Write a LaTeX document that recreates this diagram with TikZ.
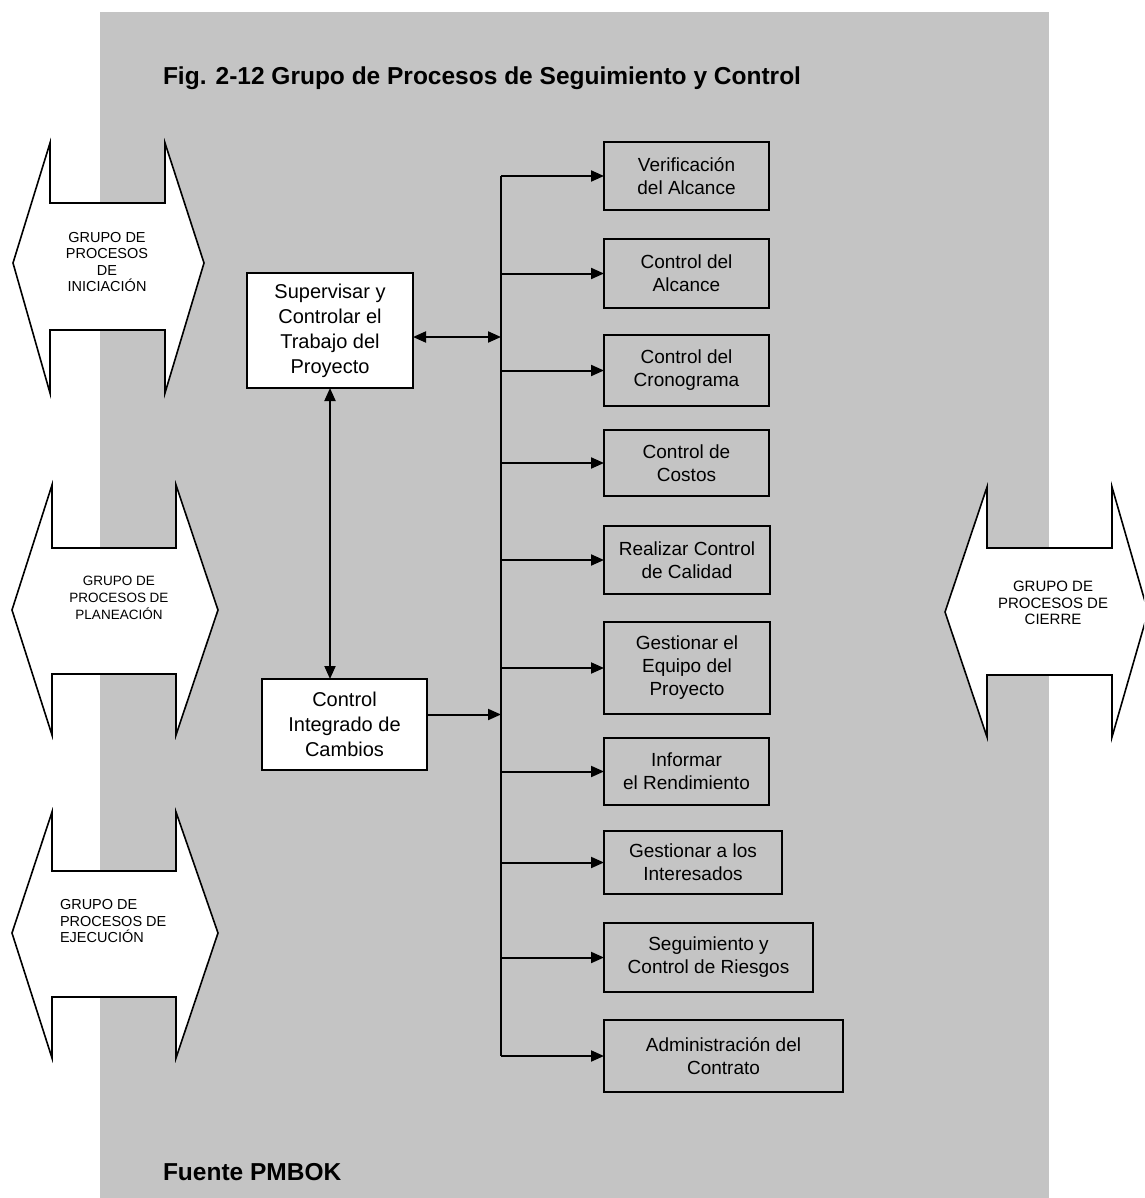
\documentclass[tikz,border=0pt]{standalone}
\usepackage{fontspec}
\setmainfont{Liberation Sans}
\usetikzlibrary{arrows.meta}
\definecolor{paper}{RGB}{196,196,196}
\begin{document}
\begin{tikzpicture}[x=1pt,y=-1pt,
  every node/.style={inner sep=0pt,outer sep=0pt},
  blockarrow/.style={draw=black,line width=1.6pt,fill=white,line join=miter},
  grouplabel/.style={align=center,font=\fontsize{14.5}{16.5}\selectfont},
  procbox/.style={draw=black,line width=2.2pt,align=center,minimum width=165pt,
    font=\fontsize{19}{23}\selectfont},
  mainbox/.style={draw=black,line width=2.2pt,fill=white,align=center,
    font=\fontsize{20}{25}\selectfont},
  link/.style={line width=2pt},
  head/.style={-{Triangle[length=13pt,width=11pt]}},
  bothheads/.style={{Triangle[length=13pt,width=11pt]}-{Triangle[length=13pt,width=11pt]}},
  heading/.style={font=\bfseries\fontsize{24.5}{28}\selectfont}
]
\clip (0,0) rectangle (1144,1198);

% textured page background
\fill[paper] (100,12) rectangle (1049,1198);

% process-group block arrows
\draw[blockarrow] (13,263) -- (50,143) -- (50,203) -- (165,203) -- (165,143) -- (204,263)
  -- (165,393) -- (165,330) -- (50,330) -- (50,393) -- cycle;
\node[grouplabel] (ini) at (107,262) {GRUPO DE\\PROCESOS\\DE\\INICIACIÓN};

\draw[blockarrow] (12,610) -- (52,485) -- (52,548) -- (176,548) -- (176,485) -- (218,610)
  -- (176,735) -- (176,674) -- (52,674) -- (52,735) -- cycle;
\node[grouplabel,font=\fontsize{13.5}{17}\selectfont] (pla) at (119,598) {GRUPO DE\\PROCESOS DE\\PLANEACIÓN};

\draw[blockarrow] (12,933) -- (52,812) -- (52,871) -- (176,871) -- (176,812) -- (218,933)
  -- (176,1058) -- (176,997) -- (52,997) -- (52,1058) -- cycle;
\node[grouplabel,align=left,anchor=west] (eje) at (60,921) {GRUPO DE\\PROCESOS DE\\EJECUCIÓN};

\draw[blockarrow] (945,612) -- (987,487) -- (987,548) -- (1112,548) -- (1112,487) -- (1148,612)
  -- (1112,737) -- (1112,675) -- (987,675) -- (987,737) -- cycle;
\node[grouplabel,font=\fontsize{15}{16.5}\selectfont] (cie) at (1053,603) {GRUPO DE\\PROCESOS DE\\CIERRE};

% title and source
\node[heading,anchor=base west] (title) at (163,85) {Fig. 2-12 Grupo de Procesos de Seguimiento y Control};
\node[heading,anchor=base west] (src) at (163,1180) {Fuente PMBOK};

% integration boxes
\node[mainbox,minimum width=166pt,minimum height=115pt] (sup) at (330,330.5)
  {Supervisar y\\Controlar el\\Trabajo del\\Proyecto};
\node[mainbox,minimum width=165pt,minimum height=91pt] (cic) at (344.5,724.5)
  {Control\\Integrado de\\Cambios};

% monitoring and control processes
\node[procbox,minimum height=68pt] (p1) at (686.5,176) {Verificación\\del Alcance};
\node[procbox,minimum height=69pt] (p2) at (686.5,273.5) {Control del\\Alcance};
\node[procbox,minimum height=71pt] (p3) at (686.5,370.5) {Control del\\Cronograma};
\node[procbox,minimum height=66pt] (p4) at (686.5,463) {Control de\\Costos};
\node[procbox,minimum height=68pt,minimum width=166pt] (p5) at (687,560) {Realizar Control\\de Calidad};
\node[procbox,minimum height=92pt,minimum width=166pt] (p6) at (687,668) {Gestionar el\\Equipo del\\Proyecto};
\node[procbox,minimum height=67pt] (p7) at (686.5,771.5) {Informar\\el Rendimiento};
\node[procbox,minimum height=63pt,minimum width=178pt] (p8) at (693,862.5) {Gestionar a los\\Interesados};
\node[procbox,minimum height=69pt,minimum width=209pt] (p9) at (708.5,957.5) {Seguimiento y\\Control de Riesgos};
\node[procbox,minimum height=72pt,minimum width=239pt] (p10) at (723.5,1056) {Administración del\\Contrato};

% distribution bus
\coordinate (bus) at (501,0);
\draw[link] (bus |- p1.west) -- (bus |- p10.west);
\foreach \p in {p1,p2,p3,p4,p5,p6,p7,p8,p9,p10}
  \draw[link,head] (bus |- \p.west) -- (\p.west);

% links from the integration boxes
\coordinate (s) at ([yshift=-6.5pt]sup.east);
\draw[link,bothheads] (s) -- (bus |- s);
\draw[link,bothheads] (sup.south) -- (sup.south |- cic.north);
\coordinate (c) at ([yshift=10pt]cic.east);
\draw[link,head] (c) -- (bus |- c);
\end{tikzpicture}
\end{document}
